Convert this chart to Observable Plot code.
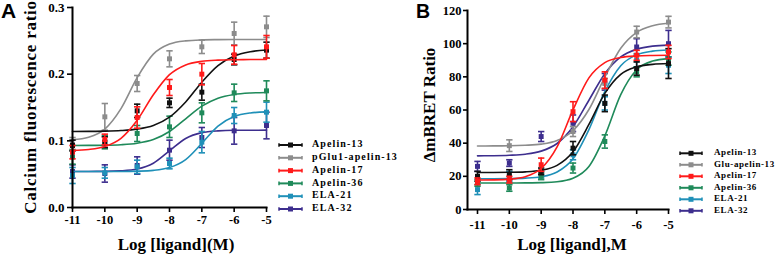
<!DOCTYPE html>
<html>
<head>
<meta charset="utf-8">
<script src="https://cdn.jsdelivr.net/npm/d3@7"></script>
<script src="https://cdn.jsdelivr.net/npm/@observablehq/plot@0.6"></script>
<style>
  html, body { margin: 0; padding: 0; background: #fff; }
  #fig { position: relative; width: 782px; height: 257px; overflow: hidden; background: #fff; }
  #fig > svg { position: absolute; top: 0; }
  #overlay { pointer-events: none; }
</style>
</head>
<body>
<div id="fig"></div>
<script>
// ---------- data ----------
const doses = [-11, -10, -9, -8, -7, -6, -5];
const fitDoses = [-11, -10.5, -10, -9.5, -9, -8.5, -8, -7.5, -7, -6.5, -6, -5.5, -5];
const namesA = ["Apelin-13", "pGlu1-apelin-13", "Apelin-17", "Apelin-36", "ELA-21", "ELA-32"];
const namesB = ["Apelin-13", "Glu-apelin-13", "Apelin-17", "Apelin-36", "ELA-21", "ELA-32"];
const colors = ["#111111", "#8c8c8c", "#ff1a1a", "#1f8a5a", "#1f90b8", "#3d2e8e"];
const yTicksA = [0, 0.1, 0.2, 0.3];
const yTicksB = [0, 20, 40, 60, 80, 100, 120];

// Panel A: calcium fluorescence ratio (means, SEM, fitted curve)
const apelin13A = [0.093, 0.098, 0.145, 0.157, 0.173, 0.222, 0.236];
const apelin13A_err = [0.008, 0.008, 0.010, 0.007, 0.012, 0.008, 0.012];
const apelin13A_fit = [0.1141, 0.1142, 0.1145, 0.1154, 0.1176, 0.123, 0.1355, 0.1583, 0.188, 0.2128, 0.2272, 0.2337, 0.2363];
const pglu13A = [0.095, 0.136, 0.186, 0.223, 0.241, 0.261, 0.271];
const pglu13A_err = [0.010, 0.020, 0.012, 0.012, 0.010, 0.017, 0.016];
const pglu13A_fit = [0.1016, 0.1054, 0.1177, 0.1484, 0.1948, 0.23, 0.2451, 0.25, 0.2514, 0.2518, 0.252, 0.252, 0.252];
const apelin17A = [0.083, 0.102, 0.135, 0.180, 0.200, 0.229, 0.241];
const apelin17A_err = [0.010, 0.008, 0.016, 0.012, 0.016, 0.014, 0.017];
const apelin17A_fit = [0.0857, 0.0871, 0.0915, 0.1037, 0.1308, 0.169, 0.1992, 0.2139, 0.2193, 0.2211, 0.2217, 0.2219, 0.222];
const apelin36A = [0.076, 0.098, 0.111, 0.121, 0.142, 0.172, 0.175];
const apelin36A_err = [0.011, 0.010, 0.012, 0.016, 0.015, 0.013, 0.015];
const apelin36A_fit = [0.0931, 0.0932, 0.0934, 0.0942, 0.0964, 0.1019, 0.114, 0.133, 0.152, 0.164, 0.1696, 0.1718, 0.1725];
const ela21A = [0.048, 0.052, 0.061, 0.066, 0.098, 0.138, 0.143];
const ela21A_err = [0.012, 0.008, 0.010, 0.008, 0.016, 0.012, 0.015];
const ela21A_fit = [0.054, 0.054, 0.054, 0.0541, 0.0545, 0.0557, 0.0599, 0.0719, 0.0962, 0.1222, 0.1365, 0.1418, 0.1434];
const ela32A = [0.054, 0.051, 0.063, 0.086, 0.105, 0.115, 0.123];
const ela32A_err = [0.010, 0.013, 0.013, 0.015, 0.015, 0.020, 0.020];
const ela32A_fit = [0.054, 0.0541, 0.0542, 0.055, 0.0577, 0.0664, 0.085, 0.1036, 0.1123, 0.115, 0.1158, 0.1159, 0.116];

// Panel B: ΔmBRET ratio
const apelin13B = [20, 21, 23, 37, 64, 85, 88];
const apelin13B_err = [3, 3, 2, 4, 5, 4, 9];
const apelin13B_fit = [22.3, 22.34, 22.42, 22.7, 23.65, 26.6, 34.8, 51.3, 70.0, 81.5, 86.0, 87.5, 88.0];
const glu13B = [null, 38.5, null, 47, 76, 107, 113];
const glu13B_err = [0, 3.5, 0, 3, 3, 3.5, 3.5];
const glu13B_fit = [38.3, 38.35, 38.4, 38.7, 39.4, 41.6, 47.5, 60.3, 79.8, 97.2, 106.8, 110.8, 112.3];
const apelin17B = [17, 18, 27, 59, 78, 93, 95];
const apelin17B_err = [2, 2, 4, 6, 5, 3, 4];
const apelin17B_fit = [17.75, 17.87, 18.3, 19.8, 24.7, 37.7, 60.1, 79.4, 88.6, 91.7, 92.6, 92.9, 93.0];
const apelin36B = [16, 13, 20, 25, 41, 83, 91];
const apelin36B_err = [2, 2, 2, 3, 4, 3, 4];
const apelin36B_fit = [16.0, 16.0, 16.0, 16.05, 16.2, 16.7, 18.8, 25.9, 44.4, 69.3, 84.3, 89.5, 91.0];
const ela21B = [12, 20, 21, 33, 64, 90, 87];
const ela21B_err = [3, 3, 2, 3, 4, 4, 5];
const ela21B_fit = [18.5, 18.53, 18.62, 18.9, 19.76, 22.6, 30.6, 48.2, 71.1, 86.7, 93.3, 95.5, 96.2];
const ela32B = [26, 28, 44, 52, 77, 98, 100];
const ela32B_err = [3, 2, 3, 5, 5, 5, 8];
const ela32B_fit = [32.35, 32.43, 32.7, 33.35, 35.2, 39.8, 49.9, 65.9, 81.9, 92.0, 96.6, 98.5, 99.1];

// ---------- build ----------
const meansA = [apelin13A, pglu13A, apelin17A, apelin36A, ela21A, ela32A];
const errsA = [apelin13A_err, pglu13A_err, apelin17A_err, apelin36A_err, ela21A_err, ela32A_err];
const fitsA = [apelin13A_fit, pglu13A_fit, apelin17A_fit, apelin36A_fit, ela21A_fit, ela32A_fit];
const meansB = [apelin13B, glu13B, apelin17B, apelin36B, ela21B, ela32B];
const errsB = [apelin13B_err, glu13B_err, apelin17B_err, apelin36B_err, ela21B_err, ela32B_err];
const fitsB = [apelin13B_fit, glu13B_fit, apelin17B_fit, apelin36B_fit, ela21B_fit, ela32B_fit];

const capSymbol = {
  draw(ctx, size) {
    const h = Math.sqrt(size) / 2;
    ctx.moveTo(-h, 0);
    ctx.lineTo(h, 0);
  }
};

function tables(means, errs, fits) {
  const pts = [], fit = [];
  means.forEach((arr, s) => arr.forEach((v, j) => {
    if (v != null) pts.push({s, x: doses[j], y: v, lo: v - errs[s][j], hi: v + errs[s][j]});
  }));
  fits.forEach((arr, s) => arr.forEach((v, j) => fit.push({s, x: fitDoses[j], y: v})));
  return {pts, fit};
}

const order = [5, 4, 3, 1, 0, 2];
function dataMarks(t) {
  const marks = [];
  for (const s of order) {
    const p = t.pts.filter(d => d.s === s);
    const f = t.fit.filter(d => d.s === s);
    const c = colors[s];
    marks.push(
      Plot.line(f, {x: "x", y: "y", stroke: c, strokeWidth: 1.6, curve: "monotone-x"}),
      Plot.ruleX(p, {x: "x", y1: "lo", y2: "hi", stroke: c, strokeWidth: 1.6}),
      Plot.dot(p, {x: "x", y: "hi", symbol: capSymbol, r: 3.6, stroke: c, fill: "none", strokeWidth: 1.6}),
      Plot.dot(p, {x: "x", y: "lo", symbol: capSymbol, r: 3.6, stroke: c, fill: "none", strokeWidth: 1.6}),
      Plot.dot(p, {x: "x", y: "y", symbol: "square", r: 2.8, fill: c, stroke: "none"})
    );
  }
  return marks;
}

const baseStyle = {fontFamily: "'Liberation Serif', 'Times New Roman', serif", fontWeight: "bold", fontSize: "12.5px", color: "#000", background: "transparent", overflow: "visible"};

const tA = tables(meansA, errsA, fitsA);
const plotA = Plot.plot({
  width: 275, height: 257,
  marginLeft: 72, marginRight: 9, marginTop: 7, marginBottom: 50,
  x: {domain: [-11, -5]},
  y: {domain: [0, 0.3]},
  style: baseStyle,
  marks: [
    ...dataMarks(tA),
    Plot.axisY({ticks: yTicksA, tickFormat: d3.format(".1f"), tickSize: 5, tickPadding: 3, strokeWidth: 1.6, label: null, fontSize: 13}),
    Plot.axisX({ticks: doses, tickFormat: d => String(d), tickSize: 5, tickPadding: 3, strokeWidth: 1.6, label: null, fontSize: 12.5}),
    Plot.frame({anchor: "left", strokeWidth: 2}),
    Plot.frame({anchor: "bottom", strokeWidth: 2})
  ]
});
plotA.style.left = "0px";

const tB = tables(meansB, errsB, fitsB);
const plotB = Plot.plot({
  width: 290, height: 257,
  marginLeft: 77, marginRight: 12, marginTop: 10, marginBottom: 48,
  x: {domain: [-11, -5], insetLeft: 10},
  y: {domain: [0, 120]},
  style: baseStyle,
  marks: [
    ...dataMarks(tB),
    Plot.axisY({ticks: yTicksB, tickSize: 4, tickPadding: 2, strokeWidth: 1.6, label: null, fontSize: 12.5}),
    Plot.axisX({ticks: doses, tickFormat: d => String(d), tickSize: 5, tickPadding: 6, strokeWidth: 1.6, label: null, fontSize: 12.5}),
    Plot.frame({anchor: "left", strokeWidth: 2}),
    Plot.frame({anchor: "bottom", strokeWidth: 2})
  ]
});
plotB.style.left = "390px";

const fig = document.getElementById("fig");
fig.appendChild(plotA);
fig.appendChild(plotB);

// ---------- overlay texts & legends ----------
const ov = d3.create("svg").attr("id", "overlay").attr("width", 782).attr("height", 257)
  .style("left", "0px").style("font-family", "'Liberation Serif', 'Times New Roman', serif").style("font-weight", "bold");

ov.append("text").attr("x", 1).attr("y", 18).attr("font-family", "'Liberation Sans', Arial, sans-serif")
  .attr("font-size", 21).attr("font-weight", "bold").text("A");
ov.append("text").attr("x", 416).attr("y", 18).attr("font-family", "'Liberation Sans', Arial, sans-serif")
  .attr("font-size", 19.5).attr("font-weight", "bold").text("B");

ov.append("text").attr("transform", "translate(32,107) rotate(-90)").attr("text-anchor", "middle")
  .attr("dominant-baseline", "middle").attr("font-size", 17).attr("letter-spacing", 0.75).text("Calcium fluorescence ratio");
ov.append("text").attr("x", 176).attr("y", 250).attr("text-anchor", "middle").attr("font-size", 17).text("Log [ligand](M)");
ov.append("text").attr("transform", "translate(431,105) rotate(-90)").attr("text-anchor", "middle")
  .attr("dominant-baseline", "middle").attr("font-size", 17).text("ΔmBRET Ratio");
ov.append("text").attr("x", 572).attr("y", 250).attr("text-anchor", "middle").attr("font-size", 17).text("Log [ligand],M");

function legend(names, x0, x1, tx, y0, dy, fs, ls) {
  names.forEach((n, i) => {
    const y = y0 + i * dy, c = colors[i], xm = (x0 + x1) / 2;
    const g = ov.append("g");
    g.append("line").attr("x1", x0).attr("x2", x1).attr("y1", y).attr("y2", y).attr("stroke", c).attr("stroke-width", 2);
    g.append("line").attr("x1", x0).attr("x2", x0).attr("y1", y - 1.8).attr("y2", y + 1.8).attr("stroke", c).attr("stroke-width", 1.5);
    g.append("line").attr("x1", x1).attr("x2", x1).attr("y1", y - 1.8).attr("y2", y + 1.8).attr("stroke", c).attr("stroke-width", 1.5);
    g.append("rect").attr("x", xm - 2.5).attr("y", y - 2.5).attr("width", 5).attr("height", 5).attr("fill", c);
    g.append("text").attr("x", tx).attr("y", y).attr("dominant-baseline", "middle").attr("font-size", fs)
      .attr("letter-spacing", ls).text(n);
  });
}
legend(namesA, 279, 302, 312, 145, 12.8, 10, 1.1);
legend(namesB, 680, 702, 714, 153.3, 11.5, 9, 0.6);

fig.appendChild(ov.node());
</script>
</body>
</html>
